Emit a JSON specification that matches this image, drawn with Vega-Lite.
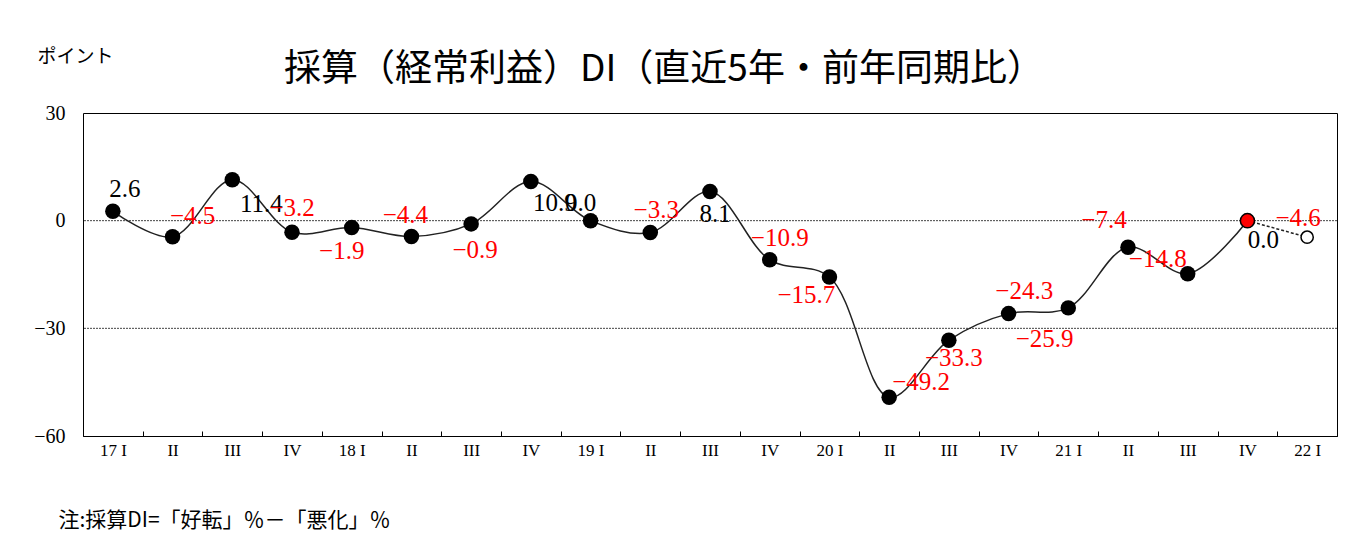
{
  "$schema": "https://vega.github.io/schema/vega-lite/v6.json",
  "autosize": "none",
  "width": 1254,
  "height": 323,
  "padding": {"left": 83, "top": 113, "right": 16, "bottom": 106},
  "background": "#ffffff",
  "title": {
    "text": "採算（経常利益）DI（直近5年・前年同期比）",
    "font": "Noto Sans CJK JP",
    "fontSize": 37,
    "fontWeight": "normal",
    "color": "#000000",
    "anchor": "middle",
    "dx": -46,
    "dy": 62,
    "offset": 20
  },
  "data": {
    "values": [
      {"i": 1, "t": "17 I", "v": 2.6},
      {"i": 2, "t": "17 II", "v": -4.5},
      {"i": 3, "t": "17 III", "v": 11.4},
      {"i": 4, "t": "17 IV", "v": -3.2},
      {"i": 5, "t": "18 I", "v": -1.9},
      {"i": 6, "t": "18 II", "v": -4.4},
      {"i": 7, "t": "18 III", "v": -0.9},
      {"i": 8, "t": "18 IV", "v": 10.9},
      {"i": 9, "t": "19 I", "v": 0.0},
      {"i": 10, "t": "19 II", "v": -3.3},
      {"i": 11, "t": "19 III", "v": 8.1},
      {"i": 12, "t": "19 IV", "v": -10.9},
      {"i": 13, "t": "20 I", "v": -15.7},
      {"i": 14, "t": "20 II", "v": -49.2},
      {"i": 15, "t": "20 III", "v": -33.3},
      {"i": 16, "t": "20 IV", "v": -25.9},
      {"i": 17, "t": "21 I", "v": -24.3},
      {"i": 18, "t": "21 II", "v": -7.4},
      {"i": 19, "t": "21 III", "v": -14.8},
      {"i": 20, "t": "21 IV", "v": 0.0},
      {"i": 21, "t": "22 I", "v": -4.6}
    ]
  },
  "encoding": {
    "x": {
      "field": "t",
      "type": "ordinal",
      "sort": null,
      "scale": {"type": "band", "paddingInner": 0, "paddingOuter": 0},
      "axis": {
        "title": "注:採算DI=「好転」％－「悪化」％",
        "titleFont": "Noto Sans CJK JP",
        "titleFontSize": 21,
        "titleFontWeight": "normal",
        "titleColor": "#000000",
        "titleAnchor": "start",
        "titleAlign": "left",
        "titleBaseline": "alphabetic",
        "titleX": -25,
        "titleY": 90,
        "labelExpr": "split(datum.label, ' ')[1] == 'I' ? datum.label : split(datum.label, ' ')[1]",
        "labelAngle": 0,
        "labelFont": "Liberation Serif",
        "labelFontSize": 17,
        "labelColor": "#000000",
        "labelPadding": 11,
        "tickBand": "extent",
        "tickSize": -5,
        "tickColor": "#000000",
        "domainColor": "#000000",
        "grid": false
      }
    },
    "y": {
      "field": "v",
      "type": "quantitative",
      "scale": {"domain": [-60, 30], "nice": false, "zero": false},
      "axis": {
        "title": "ポイント",
        "titleFont": "Noto Sans CJK JP",
        "titleFontSize": 19,
        "titleFontWeight": "normal",
        "titleColor": "#000000",
        "titleAngle": 0,
        "titleAlign": "left",
        "titleBaseline": "alphabetic",
        "titleX": -46,
        "titleY": -51,
        "values": [30, 0, -30, -60],
        "domain": false,
        "ticks": false,
        "grid": false,
        "labelFont": "Liberation Serif",
        "labelFontSize": 20,
        "labelColor": "#000000",
        "labelPadding": 18
      }
    }
  },
  "layer": [
    {
      "data": {"values": [{"g": 0}, {"g": -30}]},
      "mark": {"type": "rule", "color": "#444444", "strokeWidth": 1, "strokeDash": [2, 1]},
      "encoding": {"x": null, "y": {"field": "g", "type": "quantitative"}}
    },
    {
      "transform": [{"filter": "datum.i <= 20"}],
      "mark": {"type": "line", "interpolate": "catmull-rom", "color": "#222222", "strokeWidth": 1.5}
    },
    {
      "transform": [{"filter": "datum.i >= 20"}],
      "mark": {"type": "line", "color": "#222222", "strokeWidth": 1.5, "strokeDash": [3, 2]}
    },
    {
      "transform": [{"filter": "datum.i <= 19"}],
      "mark": {"type": "point", "shape": "circle", "filled": true, "size": 240, "color": "#000000", "opacity": 1}
    },
    {
      "transform": [{"filter": "datum.i == 20"}],
      "mark": {"type": "point", "shape": "circle", "filled": true, "size": 200, "fill": "#ff0000", "stroke": "#000000", "strokeWidth": 1.5, "opacity": 1}
    },
    {
      "transform": [{"filter": "datum.i == 21"}],
      "mark": {"type": "point", "shape": "circle", "filled": true, "size": 150, "fill": "#ffffff", "stroke": "#000000", "strokeWidth": 1.5, "opacity": 1}
    },
    {
      "data": {"values": [{"note": "次期見通し"}]},
      "mark": {"type": "text", "font": "Noto Sans CJK JP", "fontSize": 16, "color": "#444444", "align": "center", "baseline": "middle"},
      "encoding": {
        "x": {"datum": "22 I"},
        "y": {"datum": 12.5},
        "text": {"field": "note"}
      }
    },
    {
      "encoding": {
        "text": {"field": "v", "type": "quantitative", "format": ".1f"},
        "color": {"condition": {"test": "datum.v < 0", "value": "#ff0000"}, "value": "#000000"}
      },
      "layer": [
        {"transform": [{"filter": "datum.i == 1"}], "mark": {"type": "text", "dx": 12, "dy": -22}},
        {"transform": [{"filter": "datum.i == 2"}], "mark": {"type": "text", "dx": 20, "dy": -21}},
        {"transform": [{"filter": "datum.i == 3"}], "mark": {"type": "text", "dx": 29, "dy": 24}},
        {"transform": [{"filter": "datum.i == 4"}], "mark": {"type": "text", "dx": 0, "dy": -24}},
        {"transform": [{"filter": "datum.i == 5"}], "mark": {"type": "text", "dx": -10, "dy": 24}},
        {"transform": [{"filter": "datum.i == 6"}], "mark": {"type": "text", "dx": -6, "dy": -21}},
        {"transform": [{"filter": "datum.i == 7"}], "mark": {"type": "text", "dx": 4, "dy": 26}},
        {"transform": [{"filter": "datum.i == 8"}], "mark": {"type": "text", "dx": 24, "dy": 21}},
        {"transform": [{"filter": "datum.i == 9"}], "mark": {"type": "text", "dx": -10, "dy": -18}},
        {"transform": [{"filter": "datum.i == 10"}], "mark": {"type": "text", "dx": 6, "dy": -23}},
        {"transform": [{"filter": "datum.i == 11"}], "mark": {"type": "text", "dx": 5, "dy": 22}},
        {"transform": [{"filter": "datum.i == 12"}], "mark": {"type": "text", "dx": 10, "dy": -22}},
        {"transform": [{"filter": "datum.i == 13"}], "mark": {"type": "text", "dx": -23, "dy": 18}},
        {"transform": [{"filter": "datum.i == 14"}], "mark": {"type": "text", "dx": 32, "dy": -15}},
        {"transform": [{"filter": "datum.i == 15"}], "mark": {"type": "text", "dx": 5, "dy": 18}},
        {"transform": [{"filter": "datum.i == 16"}], "mark": {"type": "text", "dx": 36, "dy": 25}},
        {"transform": [{"filter": "datum.i == 17"}], "mark": {"type": "text", "dx": -44, "dy": -17}},
        {"transform": [{"filter": "datum.i == 18"}], "mark": {"type": "text", "dx": -24, "dy": -27}},
        {"transform": [{"filter": "datum.i == 19"}], "mark": {"type": "text", "dx": -30, "dy": -15}},
        {"transform": [{"filter": "datum.i == 20"}], "mark": {"type": "text", "dx": 16, "dy": 19}},
        {"transform": [{"filter": "datum.i == 21"}], "mark": {"type": "text", "dx": -9, "dy": -19}}
      ]
    }
  ],
  "config": {
    "view": {"stroke": "#000000", "strokeWidth": 1},
    "text": {"font": "Liberation Serif", "fontSize": 25, "align": "center", "baseline": "middle"}
  }
}
